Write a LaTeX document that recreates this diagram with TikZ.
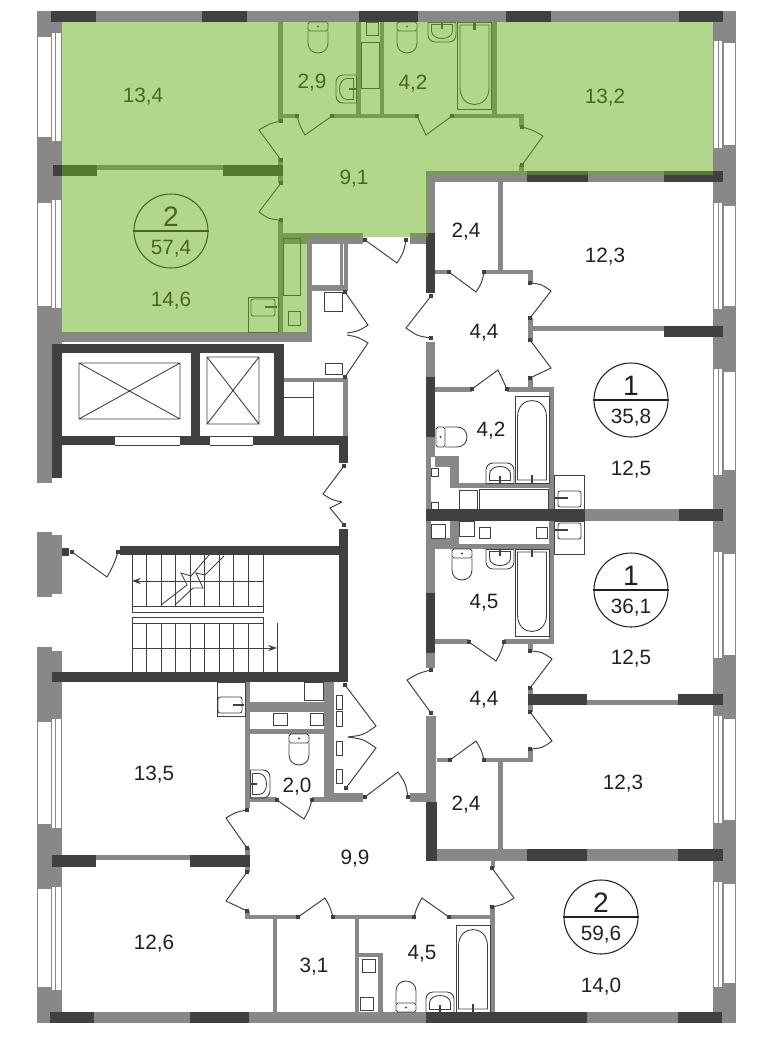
\documentclass[tikz,border=0pt]{standalone}
\usepackage{fontspec}
\setmainfont{Liberation Sans}
\usetikzlibrary{calc,arrows.meta}
\definecolor{wallgray}{RGB}{136,136,136}
\definecolor{walldark}{RGB}{64,64,64}
\definecolor{inkblack}{RGB}{35,31,32}
\definecolor{flatgreen}{RGB}{104,175,25}
\tikzset{
  wall/.style={fill=wallgray},
  darkwall/.style={fill=walldark},
  fixture/.style={draw=walldark,line width=.5pt},
  leaf/.style={draw=walldark,line width=.55pt},
  tap/.style={draw=walldark,line width=1.3pt},
  stairline/.style={draw=walldark,line width=.5pt},
  areatext/.style={text=inkblack,font=\fontsize{11.8}{14}\selectfont,inner sep=0pt,text depth=0pt},
  bignum/.style={text=inkblack,font=\fontsize{16}{18}\selectfont,inner sep=0pt,text depth=0pt},
  badge/.style={draw=inkblack,line width=.6pt,circle,minimum size=14.8mm,inner sep=0pt},
  toilet/.pic={
    \draw[fixture,rounded corners=1pt] (-10,0) rectangle (10,9) ;
    \draw[fixture] (-10,9) -- (-10,21) .. controls (-10,34.3) and (10,34.3) .. (10,21) -- (10,9) ;
    \fill[walldark] (0,4.5) circle (1.2) ;
  },
  washbasin/.pic={
    \draw[fixture,rounded corners=4pt] (-14,0) -- (-14,20) -- (14,20) -- (14,0) ;
    \draw[fixture] (-14,0) -- (14,0) ;
    \draw[fixture] (-10.5,2.5) -- (-10.5,9) .. controls (-10.5,19) and (10.5,19) .. (10.5,9) -- (10.5,2.5) -- cycle ;
    \draw[tap] (0,0) -- (0,7) ;
  },
  bathtub/.pic={
    \draw[fixture] (-17,0) rectangle (17,87) ;
    \draw[fixture] (-14.5,3) -- (14.5,3) -- (14.5,66) .. controls (14.5,88) and (-14.5,88) .. (-14.5,66) -- cycle ;
    \draw[tap] (0,0) -- (0,8) ;
  },
}
% leaf and swing of a door: hinge, free end, end of the swing
\newcommand{\swingdoor}[6]{
  \pgfmathsetmacro\rr{veclen(#3-#1,#4-#2)}
  \pgfmathsetmacro\dd{veclen((#3+#5)/2-#1,(#4+#6)/2-#2)}
  \pgfmathsetmacro\kk{(\rr*\rr)/(\dd*\dd)}
  \coordinate (hng) at (#1,#2) ;
  \coordinate (fre) at (#3,#4) ;
  \coordinate (jmb) at (#5,#6) ;
  \coordinate (mid) at ($(fre)!.5!(jmb)$) ;
  \draw[leaf] (hng) -- (fre) .. controls ($(hng)!\kk!(mid)$) .. (jmb) ;
  \fill[darkwall] (hng) ++(-2.3,-2.3) rectangle ++(4.6,4.6) ;
}

\begin{document}
\begin{tikzpicture}[x=.2mm,y=-.2mm]
  \useasboundingbox (0,0) rectangle (770,1040) ;
  % bearing walls and partitions
  \foreach \xa/\ya/\xb/\yb in {37/11/736/22,37/11/62/345,37/345/52/483,37/532/52/597,52/535/62/594,
    37/647/52/1023,52/651/62/1023,713/11/736/1023,37/1012/736/1023,62/332/312/342,
    278/22/283/122,278/158/283/183,97/165/223/170,278/220/283/332,283/114/297/118,332/114/417/118,
    452/114/524/118,519/114/524/127,519/165/524/175,356/22/361/114,380/22/384/114,492/22/497/114,
    280/233/363/244,307/233/312/342,307/285/348/291,340/244/343/291,344/244/348/291,
    426/171/723/182,426/171/435/233,410/233/426/244,498/182/503/270,435/270/449/274,484/270/533/274,
    528/270/533/283,528/318/533/342,533/326/664/331,528/378/533/387,435/387/472/392,507/387/554/392,
    549/387/554/549,426/342/435/377,426/437/435/457,435/456/459/467,450/456/459/488,426/437/431/509,
    459/483/554/488,585/509/679/521,450/521/459/549,426/521/431/549,426/538/459/549,459/544/554/549,
    549/549/554/644,426/549/435/593,426/653/435/668,435/639/469/644,504/639/554/644,528/644/533/650,
    528/688/533/694,587/700/678/705,528/705/533/712,426/716/436/802,437/758/450/762,484/758/533/762,
    528/749/533/762,498/762/503/850,410/793/426/802,426/849/723/861,491/861/495/868,490/907/495/1012,
    246/915/298/919,333/915/414/919,449/915/495/919,245/911/250/919,273/919/277/1012,355/919/359/1012,
    359/953/383/957,378/953/383/1012,245/682/250/808,245/848/250/855,245/867/250/872,250/702/324/712,
    250/729/324/734,324/682/334/802,324/793/363/802,250/797/277/802,312/797/324/802,
    284/378/348/382,343/382/348/436,96/855/190/860}
    \fill[wall] (\xa,\ya) rectangle (\xb,\yb) ;
  \foreach \xa/\ya/\xb/\yb in {51/11/96/22,202/11/247/22,359/11/418/22,506/11/551/22,679/11/723/22,
    50/1012/94/1023,190/1012/249/1023,426/1012/587/1023,678/1012/722/1023,53/165/97/176,223/165/283/176,
    527/171/588/182,664/171/723/182,664/326/723/337,426/233/435/293,426/377/435/437,426/509/585/521,
    679/509/723/521,426/593/435/653,528/694/587/705,678/694/723/705,426/802/437/861,527/849/587/861,
    678/849/723/861,52/855/96/867,190/855/250/867,52/344/284/353,52/344/62/478,191/344/200/445,
    274/344/284/445,52/436/115/445,180/436/210/445,253/436/348/445,339/436/348/463,120/546/348/555,
    339/529/348/682,52/672/348/682,62/548/69/556}
    \fill[darkwall] (\xa,\ya) rectangle (\xb,\yb) ;
  % windows
  \foreach \ia/\ib/\oa/\ob in {33/141/37/137,200/308/203/306,719/828/722/824,887/990/889/987} {
    \fill[white] (37.5,\oa) rectangle (50.5,\ob) ;
    \fill[white] (52,\ia) rectangle (55.3,\ib) ;
    \fill[white] (56.3,\ia) rectangle (60.7,\ib) ;
  }
  \foreach \ia/\ib/\oa/\ob in {41/148/43/145,203/309/206/306,369/475/372/470,552/658/554/655,716/823/719/820,882/987/884/983} {
    \fill[white] (714.2,\ia) rectangle (718,\ib) ;
    \fill[white] (719.2,\ia) rectangle (722.4,\ib) ;
    \fill[white] (723.6,\oa) rectangle (735,\ob) ;
  }
  % built-in fixtures
  \foreach \xa/\ya/\xb/\yb in {366/22/378/35,361/42/379/88,283/238/300/295,288/311/300/325,248/297/278/332,
    554/475/584/509,554/521/584/554,217/682/245/716,324/292/342/311,325/363/342/374,459/490/477/509,
    479/489/548/509,431/468/438/476,431/502/438/509,431/524/445/538,459/521/474/536,479/527/490/538,
    536/527/547/538,304/682/323/700,273/713/287/725,310/713/323/725,336/695/342/709,336/711/342/726,
    336/741/342/755,336/769/342/783,362/959/375/972,360/997/373/1010,132/606/263/612,132/617/263/623}
    \draw[fixture] (\xa,\ya) rectangle (\xb,\yb) ;
  \foreach \xa/\ya/\xb/\yb in {251/299/275/316,558/491/581/507,558/523/581/539,218/697/242/713}
    \draw[fixture,rounded corners=1.2pt] (\xa,\ya) rectangle (\xb,\yb) ;
  \foreach \xa/\ya/\xb/\yb in {265/307/277/307,555/498/568/498,555/530/568/530,233/705/244/705}
    \draw[tap] (\xa,\ya) -- (\xb,\yb) ;
  \pic at (318,22) {toilet} ;
  \pic at (407,22) {toilet} ;
  \pic at (462,549) {toilet} ;
  \pic at (299,734) {toilet} ;
  \pic[rotate=90] at (436,437) {toilet} ;
  \pic[rotate=180] at (406,1012) {toilet} ;
  \pic at (442,22) {washbasin} ;
  \pic at (500,549) {washbasin} ;
  \pic[rotate=180] at (500,483) {washbasin} ;
  \pic[rotate=180] at (440,1012) {washbasin} ;
  \pic[rotate=-90] at (356,89) {washbasin} ;
  \pic[rotate=90] at (250,784) {washbasin} ;
  \pic at (474.5,22) {bathtub} ;
  \pic at (532,549) {bathtub} ;
  \pic[rotate=180] at (532,483) {bathtub} ;
  \pic[rotate=180] at (473,1012) {bathtub} ;
  % lift shafts
  \draw[fixture] (79,363) rectangle (180,419) (79,363) -- (180,419) (79,419) -- (180,363) ;
  \draw[fixture] (207,357) rectangle (259,424) (207,357) -- (259,424) (207,424) -- (259,357) ;
  \draw[fixture] (115,436) -- (180,436) (115,445) -- (180,445) (210,436) -- (253,436) (210,445) -- (253,445) ;
  \draw[fixture] (284,397) -- (313,397) (313,382) -- (313,436) ;
  % stairs
  \foreach \x in {132,146.5,161,175.5,190,204.5,219,233.5,248,263} {
    \draw[stairline] (\x,555) -- (\x,606) ;
    \draw[stairline] (\x,623) -- (\x,672) ;
  }
  \draw[stairline,-{Stealth[length=5pt,width=3.5pt]}] (263,581) -- (132,581) ;
  \draw[stairline,-{Stealth[length=5pt,width=3.5pt]}] (132,648) -- (277,648) ;
  \draw[stairline] (277,623) -- (277,672) ;
  \draw[stairline] (209,555) -- (191,576) -- (181,573) -- (187,585) -- (161,605) ;
  \draw[stairline] (224,556) -- (205,575) -- (196,573) -- (203,588) -- (193,588) -- (175,605) ;
  % doors
  \foreach \hx/\hy/\fx/\fy/\ax/\ay in {281/160/259/130/281/121,281/183/259/212/281/220,332/116/305/135/297/116,
    452/116/426/135/417/116,522/165/543/136/522/127,365/240/397/263/406/240,431/296/406/328/431/338,
    449/272/476/292/484/272,530/318/551/291/530/283,530/340/551/368/530/378,472/389/498/370/507/389,
    469/642/496/661/504/642,530/688/552/659/530/651,431/713/407/680/431/670,450/760/476/741/484/760,
    530/712/552/741/530/749,365/797/398/772/408/797,492/868/514/898/492/907,449/917/422/898/414/917,
    298/917/325/898/333/917,277/800/304/819/312/800,247/848/226/818/247/810,247/872/226/901/247/911,
    72/552/107/577/118/552} {
    \swingdoor{\hx}{\hy}{\fx}{\fy}{\ax}{\ay}
    \fill[darkwall] (jmb) ++(-2.3,-2.3) rectangle ++(4.6,4.6) ;
  }
  % double doors of the corridor
  \foreach \hx/\hy/\fx/\fy/\ax/\ay in {345/292/368/325/347/333,345/377/368/343/347/335,344/466/323/494/342/502,
    344/525/330/508/342/502,345/685/376/726/348/737,346/788/376/748/348/737} {
    \swingdoor{\hx}{\hy}{\fx}{\fy}{\ax}{\ay}
  }
  % flat badges
  \foreach \nm/\cx/\cy/\rooms/\tot in {flatNW/171/231/2/{57,4},flatEa/631/400/1/{35,8},flatEb/631/590/1/{36,1},flatSE/601/917/2/{59,6}} {
    \node[badge] (\nm) at (\cx,\cy) {} ;
    \draw[draw=inkblack,line width=.6pt] (\nm.west) -- (\nm.east) ;
    \node[bignum] (\nm rooms) at (\cx,\cy-14.5) {\rooms} ;
    \node[areatext] (\nm area) at (\cx,\cy+16) {\tot} ;
  }
  % room areas
  \node[areatext] (bedNW) at (143,95.4) {13,4} ;
  \node[areatext] (wcNW) at (312,81) {2,9} ;
  \node[areatext] (bathNW) at (413,82) {4,2} ;
  \node[areatext] (bedNE) at (605,96) {13,2} ;
  \node[areatext] (hallNW) at (354,177) {9,1} ;
  \node[areatext] (bedW) at (171,299) {14,6} ;
  \node[areatext] (storeE) at (466,230) {2,4} ;
  \node[areatext] (bedE) at (605,255) {12,3} ;
  \node[areatext] (hallE) at (484,331) {4,4} ;
  \node[areatext] (bathE) at (491,429) {4,2} ;
  \node[areatext] (bedEa) at (631,468) {12,5} ;
  \node[areatext] (bathEb) at (484,601) {4,5} ;
  \node[areatext] (bedEb) at (631,657) {12,5} ;
  \node[areatext] (hallEb) at (484,698) {4,4} ;
  \node[areatext] (storeEb) at (466,803) {2,4} ;
  \node[areatext] (bedEc) at (623,782) {12,3} ;
  \node[areatext] (bedSE) at (601,985) {14,0} ;
  \node[areatext] (bathS) at (422,952) {4,5} ;
  \node[areatext] (bedSWa) at (154,773) {13,5} ;
  \node[areatext] (bedSWb) at (154,942) {12,6} ;
  \node[areatext] (wcSW) at (297,785) {2,0} ;
  \node[areatext] (hallS) at (355,857) {9,9} ;
  \node[areatext] (storeS) at (314,965) {3,1} ;
  % the flat on sale, laid over the plan
  \fill[flatgreen,opacity=.51] (62,22) -- (713,22) -- (713,175) -- (428,175) -- (428,237) -- (307,237)
    -- (307,333) -- (62,333) -- cycle ;
\end{tikzpicture}
\end{document}
